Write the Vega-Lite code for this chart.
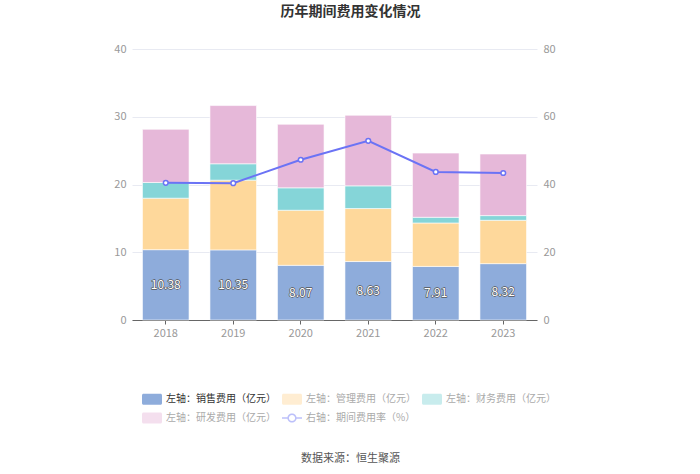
{
  "$schema": "https://vega.github.io/schema/vega-lite/v6.json",
  "autosize": {"type": "none"},
  "width": 405,
  "height": 271,
  "padding": {"left": 132, "top": 49, "right": 163, "bottom": 154},
  "background": "#ffffff",
  "title": {
    "text": "历年期间费用变化情况",
    "fontSize": 14,
    "fontWeight": "bold",
    "color": "#333333",
    "anchor": "middle",
    "dx": 16,
    "offset": 24
  },
  "datasets": {
    "costs": [
      {"year": "2018", "type": "左轴：销售费用（亿元）", "value": 10.38},
      {"year": "2018", "type": "左轴：管理费用（亿元）", "value": 7.60},
      {"year": "2018", "type": "左轴：财务费用（亿元）", "value": 2.32},
      {"year": "2018", "type": "左轴：研发费用（亿元）", "value": 7.85},
      {"year": "2019", "type": "左轴：销售费用（亿元）", "value": 10.35},
      {"year": "2019", "type": "左轴：管理费用（亿元）", "value": 10.29},
      {"year": "2019", "type": "左轴：财务费用（亿元）", "value": 2.42},
      {"year": "2019", "type": "左轴：研发费用（亿元）", "value": 8.59},
      {"year": "2020", "type": "左轴：销售费用（亿元）", "value": 8.07},
      {"year": "2020", "type": "左轴：管理费用（亿元）", "value": 8.13},
      {"year": "2020", "type": "左轴：财务费用（亿元）", "value": 3.31},
      {"year": "2020", "type": "左轴：研发费用（亿元）", "value": 9.38},
      {"year": "2021", "type": "左轴：销售费用（亿元）", "value": 8.63},
      {"year": "2021", "type": "左轴：管理费用（亿元）", "value": 7.82},
      {"year": "2021", "type": "左轴：财务费用（亿元）", "value": 3.35},
      {"year": "2021", "type": "左轴：研发费用（亿元）", "value": 10.42},
      {"year": "2022", "type": "左轴：销售费用（亿元）", "value": 7.91},
      {"year": "2022", "type": "左轴：管理费用（亿元）", "value": 6.41},
      {"year": "2022", "type": "左轴：财务费用（亿元）", "value": 0.84},
      {"year": "2022", "type": "左轴：研发费用（亿元）", "value": 9.48},
      {"year": "2023", "type": "左轴：销售费用（亿元）", "value": 8.32},
      {"year": "2023", "type": "左轴：管理费用（亿元）", "value": 6.40},
      {"year": "2023", "type": "左轴：财务费用（亿元）", "value": 0.69},
      {"year": "2023", "type": "左轴：研发费用（亿元）", "value": 9.09}
    ],
    "rate": [
      {"year": "2018", "rate": 40.5},
      {"year": "2019", "rate": 40.4},
      {"year": "2020", "rate": 47.3},
      {"year": "2021", "rate": 52.9},
      {"year": "2022", "rate": 43.7},
      {"year": "2023", "rate": 43.4}
    ]
  },
  "layer": [
    {
      "data": {"name": "costs"},
      "transform": [
        {"window": [{"op": "row_number", "as": "stackRank"}], "groupby": ["year"]}
      ],
      "mark": {"type": "bar", "stroke": "#ffffff", "strokeWidth": 0.6},
      "encoding": {
        "x": {
          "field": "year",
          "type": "nominal",
          "scale": {"paddingInner": 0.31, "paddingOuter": 0.155},
          "axis": {
            "labelAngle": 0,
            "labelColor": "#999999",
            "labelFontSize": 11,
            "labelPadding": 3,
            "domainColor": "#666666",
            "tickColor": "#666666",
            "tickSize": 4,
            "tickBand": "center",
            "title": "数据来源：恒生聚源",
            "titleFontSize": 11,
            "titleFontWeight": "normal",
            "titleColor": "#555555",
            "titleX": 218,
            "titleY": 138,
            "titleAlign": "center",
            "titleBaseline": "middle"
          }
        },
        "y": {
          "field": "value",
          "type": "quantitative",
          "stack": "zero",
          "scale": {"domain": [0, 40], "nice": false},
          "axis": {
            "orient": "left",
            "values": [0, 10, 20, 30, 40],
            "title": null,
            "domain": false,
            "ticks": false,
            "grid": true,
            "gridColor": "#e8eaf2",
            "labelColor": "#999999",
            "labelFontSize": 11,
            "labelPadding": 6
          }
        },
        "order": {"field": "stackRank", "type": "quantitative"},
        "color": {
          "field": "type",
          "type": "nominal",
          "scale": {
            "domain": ["左轴：销售费用（亿元）", "左轴：管理费用（亿元）", "左轴：财务费用（亿元）", "左轴：研发费用（亿元）", "右轴：期间费用率（%）"],
            "range": ["#8eacdb", "#fed89b", "#85d5d8", "#e6b8d9", "#6b73f5"]
          },
          "legend": {
            "title": null,
            "orient": "none",
            "legendX": 10,
            "legendY": 340,
            "direction": "horizontal",
            "columns": 3,
            "columnPadding": 6,
            "rowPadding": 3,
            "symbolSize": 400,
            "symbolStrokeWidth": 0,
            "symbolType": {"expr": "datum.value === '右轴：期间费用率（%）' ? 'M-1,-0.07 H-0.44 V0.07 H-1 Z M0.44,-0.07 H1 V0.07 H0.44 Z M0.46,0 A0.46,0.46 0 1,1 -0.46,0 A0.46,0.46 0 1,1 0.46,0 Z M0.31,0 A0.31,0.31 0 1,0 -0.31,0 A0.31,0.31 0 1,0 0.31,0 Z' : 'M-0.85,-0.55 H0.85 A0.15,0.15 0 0 1 1,-0.4 V0.4 A0.15,0.15 0 0 1 0.85,0.55 H-0.85 A0.15,0.15 0 0 1 -1,0.4 V-0.4 A0.15,0.15 0 0 1 -0.85,-0.55 Z'"},
            "symbolOpacity": {"expr": "datum.value === '左轴：销售费用（亿元）' ? 1 : 0.45"},
            "labelColor": {"expr": "datum.value === '左轴：销售费用（亿元）' ? '#333333' : '#aaaaaa'"},
            "labelFontSize": 10,
            "labelOffset": 4,
            "labelLimit": 200
          }
        }
      }
    },
    {
      "layer": [
        {
          "data": {"name": "rate"},
          "mark": {"type": "line", "strokeWidth": 2},
          "encoding": {
            "x": {"field": "year", "type": "nominal"},
            "y": {
              "field": "rate",
              "type": "quantitative",
              "scale": {"domain": [0, 80], "nice": false},
              "axis": {
                "orient": "right",
                "values": [0, 20, 40, 60, 80],
                "title": null,
                "domain": false,
                "ticks": false,
                "grid": false,
                "labelColor": "#999999",
                "labelFontSize": 11,
                "labelPadding": 6
              }
            },
            "color": {"datum": "右轴：期间费用率（%）", "legend": null}
          }
        },
        {
          "data": {"name": "rate"},
          "mark": {"type": "point", "shape": "circle", "size": 22, "filled": true, "fill": "#ffffff", "stroke": "#6b73f5", "strokeWidth": 1.5, "opacity": 1},
          "encoding": {
            "x": {"field": "year", "type": "nominal"},
            "y": {"field": "rate", "type": "quantitative", "axis": {"title": null}}
          }
        },
        {
          "data": {"name": "costs"},
          "transform": [{"filter": "datum.type === '左轴：销售费用（亿元）'"}],
          "mark": {"type": "text", "fontSize": 12, "stroke": "#555555", "strokeWidth": 1.3, "fill": "#555555", "strokeJoin": "round"},
          "encoding": {
            "x": {"field": "year", "type": "nominal"},
            "y": {"field": "value", "type": "quantitative", "axis": {"title": null}},
            "text": {"field": "value", "type": "quantitative", "format": ".2f"}
          }
        },
        {
          "data": {"name": "costs"},
          "transform": [{"filter": "datum.type === '左轴：销售费用（亿元）'"}],
          "mark": {"type": "text", "fontSize": 12, "fill": "#ffffff"},
          "encoding": {
            "x": {"field": "year", "type": "nominal"},
            "y": {"field": "value", "type": "quantitative", "axis": {"title": null}},
            "text": {"field": "value", "type": "quantitative", "format": ".2f"}
          }
        }
      ]
    }
  ],
  "resolve": {"scale": {"y": "independent"}},
  "config": {
    "font": "Noto Sans CJK SC",
    "view": {"stroke": null}
  }
}
